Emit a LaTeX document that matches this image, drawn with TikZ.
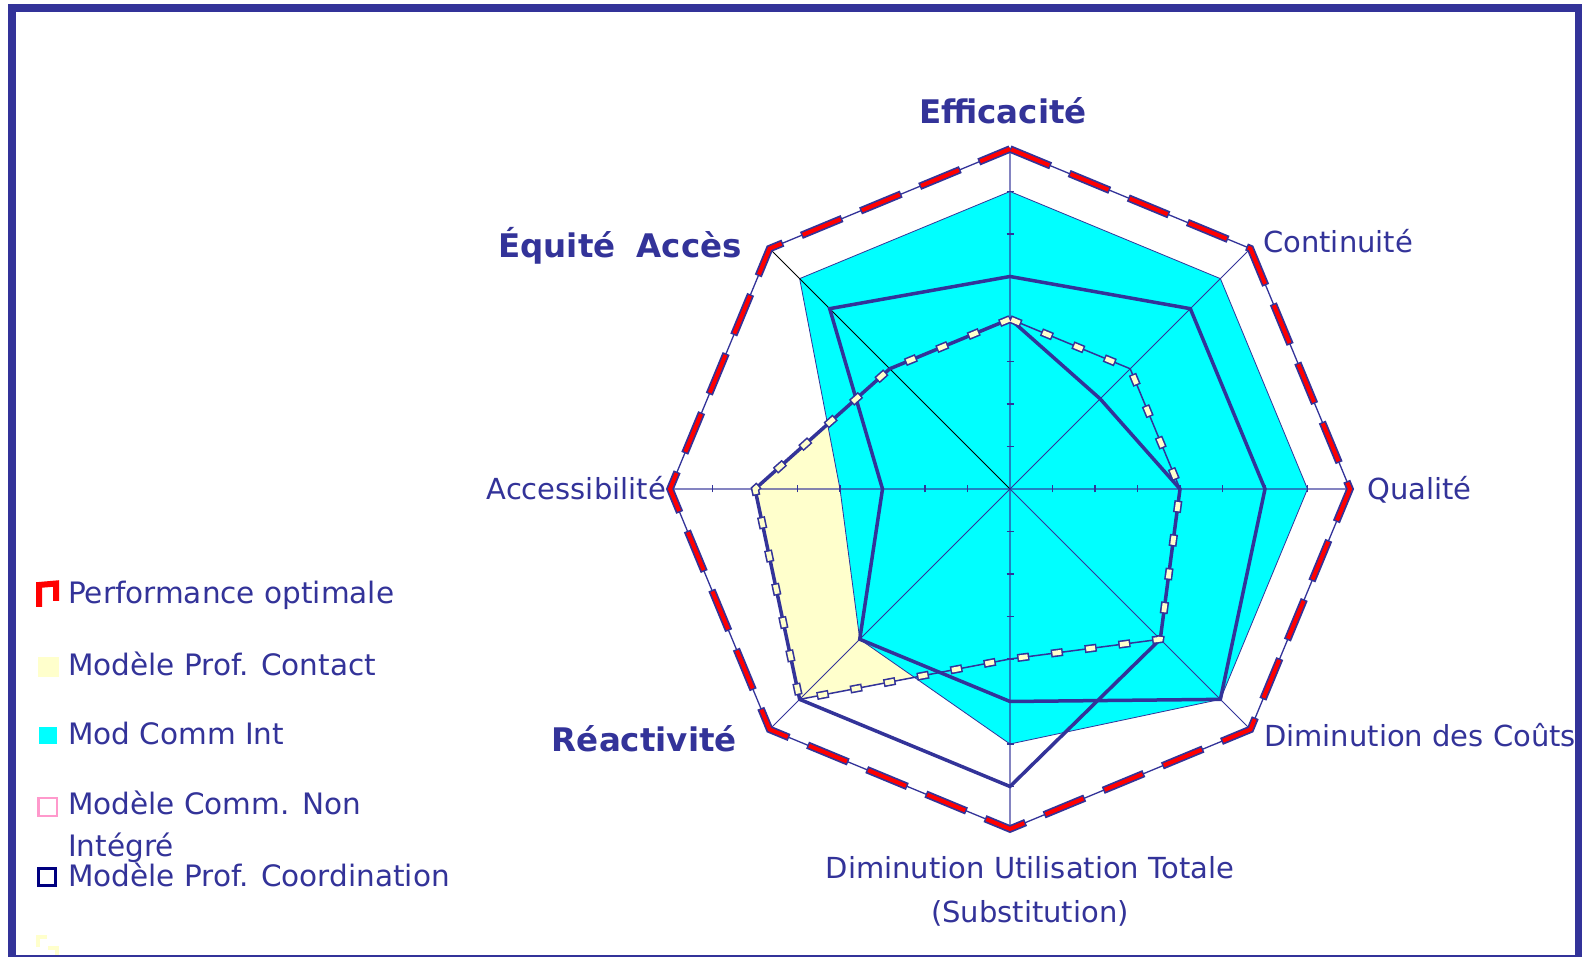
\documentclass[tikz,border=0pt]{standalone}
\usepackage{fontspec}
\setmainfont{DejaVu Sans}
\usetikzlibrary{calc}
\definecolor{navy}{RGB}{51,51,153}
\definecolor{pale}{RGB}{255,255,204}
\definecolor{aqua}{RGB}{0,255,255}
\definecolor{pinkk}{RGB}{255,153,204}
\definecolor{dnavy}{RGB}{0,0,128}
\begin{document}
\begin{tikzpicture}[x=1pt,y=1pt,
  lab/.style={text=navy,inner sep=0pt,font=\fontsize{29}{44}\selectfont},
  blab/.style={text=navy,inner sep=0pt,font=\fontsize{32.5}{38}\selectfont\bfseries},
  leg/.style={text=navy,inner sep=0pt,anchor=base west,font=\fontsize{29.5}{35}\selectfont},
  seriesline/.style={draw=navy,line width=3.5pt,line join=miter},
  thinline/.style={draw=navy,line width=0.8pt},
  tickmark/.style={draw=navy,line width=1.2pt}]
\useasboundingbox (0,0) rectangle (1582,957);
% frame
\fill[navy] (8,0) rectangle (1582,953);
\fill[white] (16,2) rectangle (1575,945);

\coordinate (O) at (1010,468);
\def\unitR{42.5}
% axis ends (value 8)
\foreach \n/\a in {eff/90,con/45,qua/0,dco/-45,dut/-90,rea/-135,acc/180,equ/135}
  \coordinate (\n8) at ($(O)+(\a:{8*\unitR})$);
% Mod Comm Int
\foreach \a/\v [count=\i] in {90/7,45/7,0/7,-45/7,-90/6,-135/5,180/4,135/7}
  \coordinate (cy\i) at ($(O)+(\a:{\v*\unitR})$);
% Prof Coordination
\foreach \a/\v [count=\i] in {90/5,45/6,0/6,-45/7,-90/5,-135/5,180/3,135/6}
  \coordinate (x\i) at ($(O)+(\a:{\v*\unitR})$);
% second thick series
\foreach \a/\v [count=\i] in {90/4,45/3,0/4,-45/5,-90/7,-135/7,180/6,135/4}
  \coordinate (y\i) at ($(O)+(\a:{\v*\unitR})$);
% dashed series / Prof Contact
\foreach \a/\v [count=\i] in {90/4,45/4,0/4,-45/5,-90/4,-135/7,180/6,135/4}
  \coordinate (d\i) at ($(O)+(\a:{\v*\unitR})$);

% fills
\fill[pale] (d1)--(d2)--(d3)--(d4)--(d5)--(d6)--(d7)--(d8)--cycle;
\filldraw[fill=aqua,thinline] (cy1)--(cy2)--(cy3)--(cy4)--(cy5)--(cy6)--(cy7)--(cy8)--cycle;

% axes
\foreach \n in {con,dco,rea} \draw[thinline] (O)--(\n8);
\draw[black,line width=0.8pt] (O)--(equ8);
\draw[navy,opacity=0.6,line width=1.6pt] (eff8)--(dut8) (acc8)--(qua8);
\foreach \k in {1,...,7}{
  \draw[tickmark] ($(O)+({\k*\unitR},-3.5)$)--++(0,7);
  \draw[tickmark] ($(O)+({-\k*\unitR},-3.5)$)--++(0,7);
  \draw[tickmark] ($(O)+(-3.5,{\k*\unitR})$)--++(7,0);
  \draw[tickmark] ($(O)+(-3.5,{-\k*\unitR})$)--++(7,0);
}

% optimal performance octagon
\draw[navy,line width=1.3pt] (eff8)--(con8)--(qua8)--(dco8)--(dut8)--(rea8)--(acc8)--(equ8)--cycle;
\draw[navy,line width=7.5pt,dash pattern=on 44pt off 20pt] (eff8)--(con8)--(qua8)--(dco8)--(dut8)--(rea8)--(acc8)--(equ8)--cycle;
\draw[red,line width=4pt,dash pattern=on 0pt off 1.5pt on 41pt off 21.5pt] (eff8)--(con8)--(qua8)--(dco8)--(dut8)--(rea8)--(acc8)--(equ8)--cycle;

% thick series
\draw[seriesline] (x1)--(x2)--(x3)--(x4)--(x5)--(x6)--(x7)--(x8)--cycle;
\draw[seriesline] (y1)--(y2)--(y3)--(y4)--(y5)--(y6)--(y7)--(y8)--cycle;

% dashed series with pale markers
\draw[navy,line width=1.5pt] (d1)--(d2)--(d3)--(d4)--(d5)--(d6)--(d7)--(d8)--cycle;
\draw[navy,line width=8pt,dash pattern=on 12pt off 22pt] (d1)--(d2)--(d3)--(d4)--(d5)--(d6)--(d7)--(d8)--cycle;
\draw[pale,line width=4.8pt,dash pattern=on 0pt off 1.5pt on 9pt off 23.5pt] (d1)--(d2)--(d3)--(d4)--(d5)--(d6)--(d7)--(d8)--cycle;

% axis labels
\node[blab] (lEff) at (1003,846) {Efficacité};
\node[blab,anchor=mid east] (lEqu) at (742,702) {Équité\hspace{0.3em} Accès};
\node[blab,anchor=mid east] (lRea) at (737,208) {Réactivité};
\node[lab,anchor=mid west] (lCon) at (1263,707) {Continuité};
\node[lab,anchor=mid west] (lQua) at (1367,460) {Qualité};
\node[lab,anchor=mid east] (lAcc) at (666,460) {Accessibilité};
\node[lab,anchor=mid west] (lDco) at (1264,213) {Diminution des Coûts};
\node[lab,align=center] (lDut) at (1030,66) {Diminution Utilisation Totale\\(Substitution)};

% legend
\draw[red,line width=6pt,line join=miter] (39,350)--(39,372)--(56,373.5)--(56,356);
\fill[pale] (38,280) rectangle (59,300);
\fill[aqua] (39,213) rectangle (57,230);
\draw[pinkk,line width=2.5pt] (38.5,141) rectangle (57,159);
\draw[dnavy,line width=3pt] (38.5,71.5) rectangle (55.5,88.5);
\draw[pale,line width=4pt] (38,10)--(38,20)--(47,20);
\draw[pale,line width=4pt] (48,8.5)--(57,8.5)--(57,2);
\node[leg] (g1) at (68,353) {Performance optimale};
\node[leg] (g2) at (68,281) {Modèle Prof. Contact};
\node[leg] (g3) at (68,212) {Mod Comm Int};
\node[leg] (g4) at (68,142) {Modèle Comm. Non};
\node[leg] (g5) at (68,100) {Intégré};
\node[leg] (g6) at (68,70) {Modèle Prof. Coordination};
\end{tikzpicture}
\end{document}
